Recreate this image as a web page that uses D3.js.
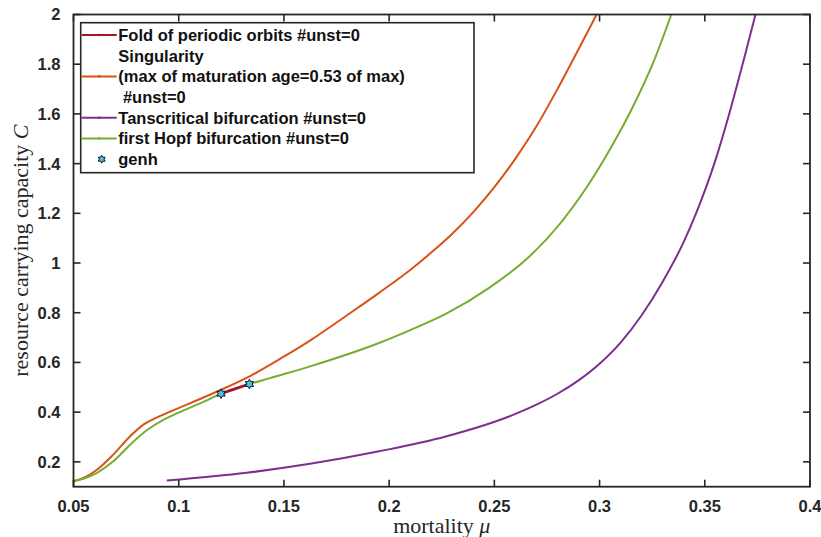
<!DOCTYPE html>
<html>
<head>
<meta charset="utf-8">
<script src="https://cdn.jsdelivr.net/npm/d3@7"></script>
<style>
  body { margin: 0; background: #fff; }
  svg { display: block; }
</style>
</head>
<body>
<div id="chart"></div>
<script>
// data (mortality mu, carrying capacity C)
const singMu = [0.050, 0.055, 0.061, 0.0689, 0.0769, 0.0832, 0.0895, 0.0959, 0.1038, 0.1196, 0.1339, 0.1497, 0.1624, 0.180, 0.1952, 0.210, 0.220, 0.230, 0.240, 0.250, 0.260, 0.270, 0.280, 0.290, 0.2986];
const singC  = [0.122, 0.136, 0.167, 0.229, 0.303, 0.350, 0.378, 0.402, 0.430, 0.488, 0.545, 0.622, 0.688, 0.790, 0.880, 0.972, 1.042, 1.118, 1.205, 1.305, 1.420, 1.550, 1.700, 1.860, 2.000];

const hopfMu = [0.050, 0.055, 0.061, 0.0689, 0.0769, 0.0848, 0.0927, 0.1006, 0.1117, 0.1201, 0.1336, 0.1434, 0.1624, 0.1952, 0.210, 0.2269, 0.2475, 0.2665, 0.2823, 0.2935, 0.3061, 0.3156, 0.3252, 0.3341];
const hopfC  = [0.122, 0.133, 0.155, 0.202, 0.269, 0.327, 0.369, 0.400, 0.441, 0.4743, 0.5131, 0.537, 0.584, 0.678, 0.730, 0.795, 0.900, 1.025, 1.170, 1.300, 1.475, 1.625, 1.800, 2.000];

const transMu = [0.0943, 0.1323, 0.1624, 0.1952, 0.2269, 0.2586, 0.270, 0.280, 0.290, 0.300, 0.310, 0.320, 0.330, 0.340, 0.3459, 0.3546, 0.3617, 0.3681, 0.3741];
const transC  = [0.1246, 0.156, 0.192, 0.2424, 0.302, 0.388, 0.430, 0.474, 0.528, 0.595, 0.680, 0.790, 0.925, 1.085, 1.2008, 1.4018, 1.603, 1.804, 2.000];

const foldMu = [0.1201, 0.1336];
const foldC  = [0.4743, 0.5131];

const genhMu = [0.1201, 0.1336];
const genhC  = [0.4743, 0.5131];

const xTicks = [0.05, 0.1, 0.15, 0.2, 0.25, 0.3, 0.35, 0.4];
const yTicks = [0.2, 0.4, 0.6, 0.8, 1, 1.2, 1.4, 1.6, 1.8, 2];

const legendLabels = [
  "Fold of periodic orbits #unst=0",
  "Singularity",
  "(max of maturation age=0.53 of max)",
  " #unst=0",
  "Tanscritical bifurcation #unst=0",
  "first Hopf bifurcation #unst=0",
  "genh"
];

// MATLAB-ish colours
const cFold = "#a2142f", cSing = "#d95319", cTrans = "#7e2f8e", cHopf = "#77ac30", cGenh = "#4dbeee";
const ink = "#262626";

var W = 821, H = 537;
var margin = {top: 14.5, right: 11, bottom: 50.3, left: 73.5};
var width = W - margin.left - margin.right,
    height = H - margin.top - margin.bottom;

var svg = d3.select("#chart").append("svg")
    .attr("width", W)
    .attr("height", H);

var g = svg.append("g")
    .attr("transform", "translate(" + margin.left + "," + margin.top + ")");

const x = d3.scaleLinear().domain([0.05, 0.4]).range([0, width]);
const y = d3.scaleLinear().domain([0.1, 2]).range([height, 0]);

const zip = (a, b) => a.map((v, i) => [v, b[i]]);

const line = d3.line()
    .x(d => x(d[0]))
    .y(d => y(d[1]))
    .curve(d3.curveMonotoneX);

g.append("defs").append("clipPath").attr("id", "clip")
  .append("rect").attr("width", width).attr("height", height);

const plot = g.append("g").attr("clip-path", "url(#clip)");

// curves
[[singMu, singC, cSing], [hopfMu, hopfC, cHopf], [transMu, transC, cTrans]].forEach(s => {
  plot.append("path")
    .attr("d", line(zip(s[0], s[1])))
    .attr("fill", "none")
    .attr("stroke", s[2])
    .attr("stroke-width", 2);
});

plot.append("path")
  .attr("d", d3.line().x(d => x(d[0])).y(d => y(d[1]))(zip(foldMu, foldC)))
  .attr("fill", "none")
  .attr("stroke", cFold)
  .attr("stroke-width", 2.8);

// hexagram marker, like matlab 'h'
const hexagram = {
  draw(ctx, size) {
    const R = Math.sqrt(size) * 0.75, r = R * 0.58;
    for (let i = 0; i < 12; i++) {
      const a = -Math.PI / 2 + i * Math.PI / 6;
      const rr = i % 2 ? r : R;
      if (i === 0) ctx.moveTo(rr * Math.cos(a), rr * Math.sin(a));
      else ctx.lineTo(rr * Math.cos(a), rr * Math.sin(a));
    }
    ctx.closePath();
  }
};
const star = d3.symbol().type(hexagram).size(40);

g.selectAll(".genh")
  .data(zip(genhMu, genhC))
  .enter().append("path")
  .attr("class", "genh")
  .attr("transform", d => "translate(" + x(d[0]) + "," + y(d[1]) + ")")
  .attr("d", star)
  .attr("fill", cGenh)
  .attr("stroke", "#111")
  .attr("stroke-width", 1);

// axes box with inward ticks on all sides
const tickLen = 7;
g.append("rect")
  .attr("width", width).attr("height", height)
  .attr("fill", "none").attr("stroke", ink).attr("stroke-width", 1.8);

xTicks.forEach(t => {
  g.append("line").attr("x1", x(t)).attr("x2", x(t)).attr("y1", height).attr("y2", height - tickLen)
    .attr("stroke", ink).attr("stroke-width", 1.6);
  g.append("line").attr("x1", x(t)).attr("x2", x(t)).attr("y1", 0).attr("y2", tickLen)
    .attr("stroke", ink).attr("stroke-width", 1.6);
  g.append("text").attr("x", x(t)).attr("y", height + 25)
    .attr("text-anchor", "middle")
    .style("font-family", "'Liberation Sans', Arial, sans-serif")
    .style("font-weight", "bold").style("font-size", "16.5px").attr("fill", ink)
    .text(t);
});

yTicks.forEach(t => {
  g.append("line").attr("x1", 0).attr("x2", tickLen).attr("y1", y(t)).attr("y2", y(t))
    .attr("stroke", ink).attr("stroke-width", 1.6);
  g.append("line").attr("x1", width).attr("x2", width - tickLen).attr("y1", y(t)).attr("y2", y(t))
    .attr("stroke", ink).attr("stroke-width", 1.6);
  g.append("text").attr("x", -13).attr("y", y(t)).attr("dy", "0.36em")
    .attr("text-anchor", "end")
    .style("font-family", "'Liberation Sans', Arial, sans-serif")
    .style("font-weight", "bold").style("font-size", "16.5px").attr("fill", ink)
    .text(t);
});

// axis labels
const xl = g.append("text")
  .attr("x", width / 2).attr("y", height + 46)
  .attr("text-anchor", "middle")
  .style("font-family", "'Liberation Serif', 'Times New Roman', serif")
  .style("font-size", "22px").attr("fill", ink);
xl.append("tspan").text("mortality ");
xl.append("tspan").style("font-style", "italic").text("\u03bc");

const yl = g.append("text")
  .attr("transform", "translate(" + (-45.5) + "," + (height / 2) + ") rotate(-90)")
  .attr("text-anchor", "middle")
  .style("font-family", "'Liberation Serif', 'Times New Roman', serif")
  .style("font-size", "22px").attr("fill", ink);
yl.append("tspan").text("resource carrying capacity ");
yl.append("tspan").style("font-style", "italic").text("C");

// legend
const lg = svg.append("g").attr("transform", "translate(80.7,22.7)");
lg.append("rect").attr("width", 393.3).attr("height", 150)
  .attr("fill", "#fff").attr("stroke", ink).attr("stroke-width", 1.6);

const rowY = i => 12.3 + i * 20.7;
const legendLines = [[0, cFold], [2, cSing], [4, cTrans], [5, cHopf]];
legendLines.forEach(d => {
  lg.append("line").attr("x1", 1).attr("x2", 36).attr("y1", rowY(d[0])).attr("y2", rowY(d[0]))
    .attr("stroke", d[1]).attr("stroke-width", 2);
  lg.append("circle").attr("cx", 18.5).attr("cy", rowY(d[0])).attr("r", 1.3).attr("fill", d[1]);
});
lg.append("path")
  .attr("transform", "translate(21," + rowY(6) + ")")
  .attr("d", d3.symbol().type(hexagram).size(28))
  .attr("fill", cGenh).attr("stroke", "#111").attr("stroke-width", 1);

lg.selectAll(".lt")
  .data(legendLabels)
  .enter().append("text")
  .attr("class", "lt")
  .attr("x", 37.6)
  .attr("y", (d, i) => rowY(i))
  .attr("dy", "0.36em")
  .attr("xml:space", "preserve")
  .style("white-space", "pre")
  .style("font-family", "'Liberation Sans', Arial, sans-serif")
  .style("font-weight", "bold").style("font-size", "16.5px").attr("fill", "#111")
  .text(d => d);
</script>
</body>
</html>
